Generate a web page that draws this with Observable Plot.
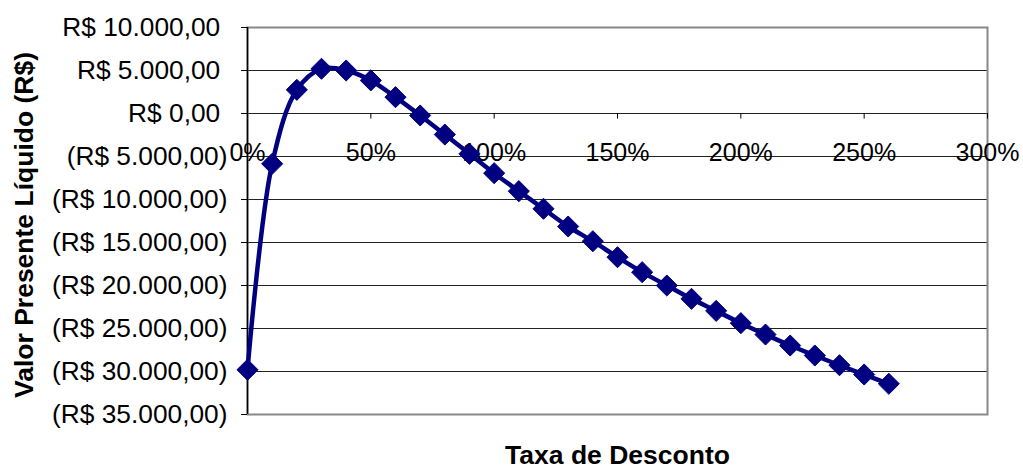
<!DOCTYPE html>
<html>
<head>
<meta charset="utf-8">
<script src="https://cdn.jsdelivr.net/npm/d3@7"></script>
<script src="https://cdn.jsdelivr.net/npm/@observablehq/plot@0.6"></script>
<style>
  html, body { margin: 0; padding: 0; background: #fff; }
  #chart { width: 1023px; height: 470px; }
</style>
</head>
<body>
<div id="chart"></div>
<script>
// Taxa de desconto (%) e valor presente líquido (R$) correspondente
const taxas = [0, 10, 20, 30, 40, 50, 60, 70, 80, 90, 100, 110, 120, 130,
  140, 150, 160, 170, 180, 190, 200, 210, 220, 230, 240, 250, 260];
const vpl = [-29800, -5850, 2750, 5200, 5000, 3850, 1900, -230, -2450, -4690,
  -6940, -9030, -11080, -13140, -14850, -16710, -18450, -20000, -21550,
  -22950, -24380, -25700, -26980, -28140, -29270, -30350, -31430];

// Marcas dos eixos
const xTicks = [0, 50, 100, 150, 200, 250, 300];
const yTicks = [10000, 5000, 0, -5000, -10000, -15000, -20000, -25000, -30000, -35000];

const tituloX = "Taxa de Desconto";
const tituloY = "Valor Presente Líquido (R$)";

const pontos = taxas.map((t, i) => ({taxa: t, valor: vpl[i]}));

// Formato contábil em reais: negativos entre parênteses
const brl = d3.formatLocale({decimal: ",", thousands: ".", grouping: [3], currency: ["R$ ", ""]}).format("($,.2f");
const fmtY = v => v < 0 ? brl(v) : brl(v) + "\u00A0";
const fmtX = v => v + "%";

const navy = "#000080";
const font = "'Liberation Sans', Arial, sans-serif";

const chart = Plot.plot({
  width: 1023,
  height: 470,
  marginLeft: 247,
  marginRight: 36,
  marginTop: 27,
  marginBottom: 56,
  style: {fontFamily: font, background: "#fff", color: "#000"},
  x: {domain: [0, 300], axis: null},
  y: {domain: [-35000, 10000], axis: null},
  marks: [
    // linhas de grade horizontais
    Plot.ruleY(yTicks, {stroke: "#222", strokeWidth: 1}),
    // moldura da área de plotagem
    Plot.frame({stroke: "#888", strokeWidth: 2}),
    // eixo vertical
    Plot.ruleX([0], {stroke: "#000", strokeWidth: 1.5}),
    Plot.axisY(yTicks, {tickFormat: fmtY, tickSize: 6, tickPadding: 14, fontSize: 26.3, stroke: "#000", label: null}),
    // traços do eixo horizontal sobre a linha do zero
    Plot.ruleX(xTicks, {x: d => d, y1: 0, y2: -650, stroke: "#000", strokeWidth: 1}),
    Plot.text(xTicks, {x: d => d, y: 0, text: fmtX, dy: 39, fontSize: 25, fill: "#000", lineAnchor: "middle"}),
    // títulos dos eixos
    Plot.text([tituloX], {frameAnchor: "bottom", dy: 41, fontSize: 26.5, fontWeight: "bold", fill: "#000", lineAnchor: "middle"}),
    Plot.text([tituloY], {frameAnchor: "left", textAnchor: "middle", rotate: -90, dx: -223, dy: 4, fontSize: 26.5, fontWeight: "bold", fill: "#000", lineAnchor: "middle"}),
    // curva do VPL
    Plot.line(pontos, {x: "taxa", y: "valor", stroke: navy, strokeWidth: 4.5, curve: "catmull-rom"}),
    Plot.dot(pontos, {x: "taxa", y: "valor", symbol: "diamond2", r: 9.5, fill: navy, stroke: navy, strokeWidth: 1})
  ]
});

document.getElementById("chart").appendChild(chart);
</script>
</body>
</html>
